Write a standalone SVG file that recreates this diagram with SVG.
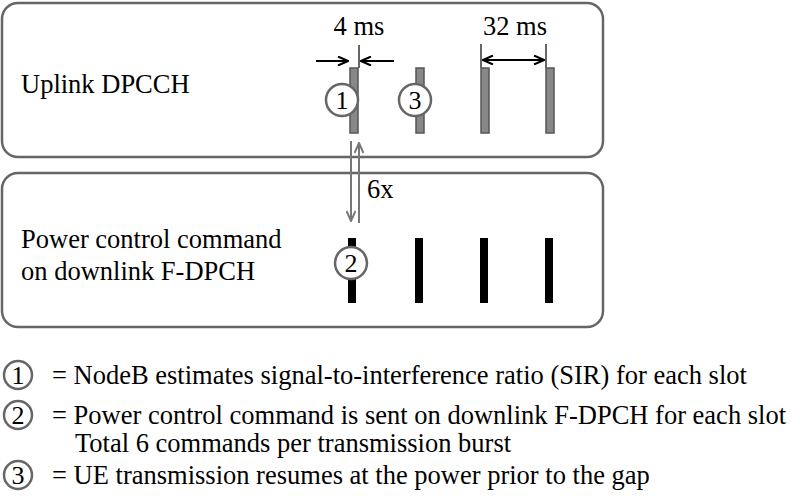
<svg xmlns="http://www.w3.org/2000/svg" width="800" height="499" viewBox="0 0 800 499">
<defs>
<style>
svg text, svg g text { font-family: "Liberation Serif", serif !important; fill: #000; }
.box { fill: #fff; stroke: #666; stroke-width: 2.5; }
.ub { fill: #888; stroke: #555; stroke-width: 1.5; }
.circ { fill: #fff; stroke: #666; stroke-width: 2.5; }
</style>
<marker id="ab" markerWidth="12" markerHeight="10" refX="11" refY="5" orient="auto-start-reverse" markerUnits="userSpaceOnUse"><path d="M1,0.5 L11,5 L1,9.5" fill="none" stroke="#000" stroke-width="2"/></marker>
<marker id="ag" markerWidth="12" markerHeight="10" refX="11" refY="5" orient="auto-start-reverse" markerUnits="userSpaceOnUse"><path d="M1,0.5 L11,5 L1,9.5" fill="none" stroke="#777" stroke-width="2"/></marker>
</defs>
<rect width="800" height="499" fill="#fff"/>
<g id="uplink">
<rect class="box" x="2" y="3" width="601" height="154" rx="16"/>
<text x="21" y="93" font-family="Liberation Serif" font-size="26.5" style="font-family:'Liberation Serif',serif !important">Uplink DPCCH</text>
<rect class="ub" x="350" y="68" width="8" height="65"/>
<rect class="ub" x="416" y="68" width="8" height="65"/>
<rect class="ub" x="481" y="68" width="8" height="65"/>
<rect class="ub" x="546" y="68" width="8" height="65"/>
<g stroke="#666" stroke-width="2">
<line x1="359" y1="45" x2="359" y2="68"/>
<line x1="481" y1="44" x2="481" y2="68"/>
<line x1="546" y1="44" x2="546" y2="68"/>
</g>
<circle class="circ" cx="342" cy="100" r="16"/>
<text x="342" y="109" text-anchor="middle" font-family="Liberation Serif" font-size="26" style="font-family:'Liberation Serif',serif !important">1</text>
<circle class="circ" cx="415" cy="100" r="16"/>
<text x="415" y="109" text-anchor="middle" font-family="Liberation Serif" font-size="26" style="font-family:'Liberation Serif',serif !important">3</text>
<text x="359" y="35" text-anchor="middle" font-family="Liberation Serif" font-size="26.5" style="font-family:'Liberation Serif',serif !important">4 ms</text>
<text x="515" y="35" text-anchor="middle" font-family="Liberation Serif" font-size="26.5" style="font-family:'Liberation Serif',serif !important">32 ms</text>
</g>
<g id="downlink">
<rect class="box" x="2" y="173" width="601" height="154" rx="16"/>
<text x="21" y="248" font-family="Liberation Serif" font-size="26.5" style="font-family:'Liberation Serif',serif !important">Power control command</text>
<text x="21" y="280" font-family="Liberation Serif" font-size="26.5" style="font-family:'Liberation Serif',serif !important">on downlink F-DPCH</text>
<g fill="#000">
<rect x="348" y="238" width="8" height="65"/>
<rect x="415" y="238" width="8" height="65"/>
<rect x="480" y="238" width="8" height="65"/>
<rect x="545" y="238" width="8" height="65"/>
</g>
<circle class="circ" cx="351" cy="263" r="16"/>
<text x="351" y="272" text-anchor="middle" font-family="Liberation Serif" font-size="26" style="font-family:'Liberation Serif',serif !important">2</text>
</g>
<g id="connectors" fill="none" stroke-width="2">
<line x1="316" y1="61" x2="348" y2="61" stroke="#000" marker-end="url(#ab)"/>
<line x1="394" y1="61" x2="361" y2="61" stroke="#000" marker-end="url(#ab)"/>
<line x1="483" y1="60" x2="544" y2="60" stroke="#000" marker-start="url(#ab)" marker-end="url(#ab)"/>
<line x1="351" y1="141" x2="351" y2="221" stroke="#777" marker-end="url(#ag)"/>
<line x1="359" y1="223" x2="359" y2="143" stroke="#777" marker-end="url(#ag)"/>
<text x="367" y="198" font-family="Liberation Serif" font-size="26.5" fill="#000" stroke="none" style="font-family:'Liberation Serif',serif !important">6x</text>
</g>
<g id="legend">
<circle class="circ" cx="18" cy="375" r="14"/>
<text x="18" y="384" text-anchor="middle" font-family="Liberation Serif" font-size="26" style="font-family:'Liberation Serif',serif !important">1</text>
<text x="52" y="384" font-family="Liberation Serif" font-size="26.5" style="font-family:'Liberation Serif',serif !important">= NodeB estimates signal-to-interference ratio (SIR) for each slot</text>
<circle class="circ" cx="18" cy="415" r="14"/>
<text x="18" y="424" text-anchor="middle" font-family="Liberation Serif" font-size="26" style="font-family:'Liberation Serif',serif !important">2</text>
<text x="52" y="424" font-family="Liberation Serif" font-size="26.5" style="font-family:'Liberation Serif',serif !important">= Power control command is sent on downlink F-DPCH for each slot</text>
<text x="75" y="452" font-family="Liberation Serif" font-size="26.5" style="font-family:'Liberation Serif',serif !important">Total 6 commands per transmission burst</text>
<circle class="circ" cx="18" cy="475" r="14"/>
<text x="18" y="484" text-anchor="middle" font-family="Liberation Serif" font-size="26" style="font-family:'Liberation Serif',serif !important">3</text>
<text x="52" y="484" font-family="Liberation Serif" font-size="26.5" style="font-family:'Liberation Serif',serif !important">= UE transmission resumes at the power prior to the gap</text>
</g>
</svg>
